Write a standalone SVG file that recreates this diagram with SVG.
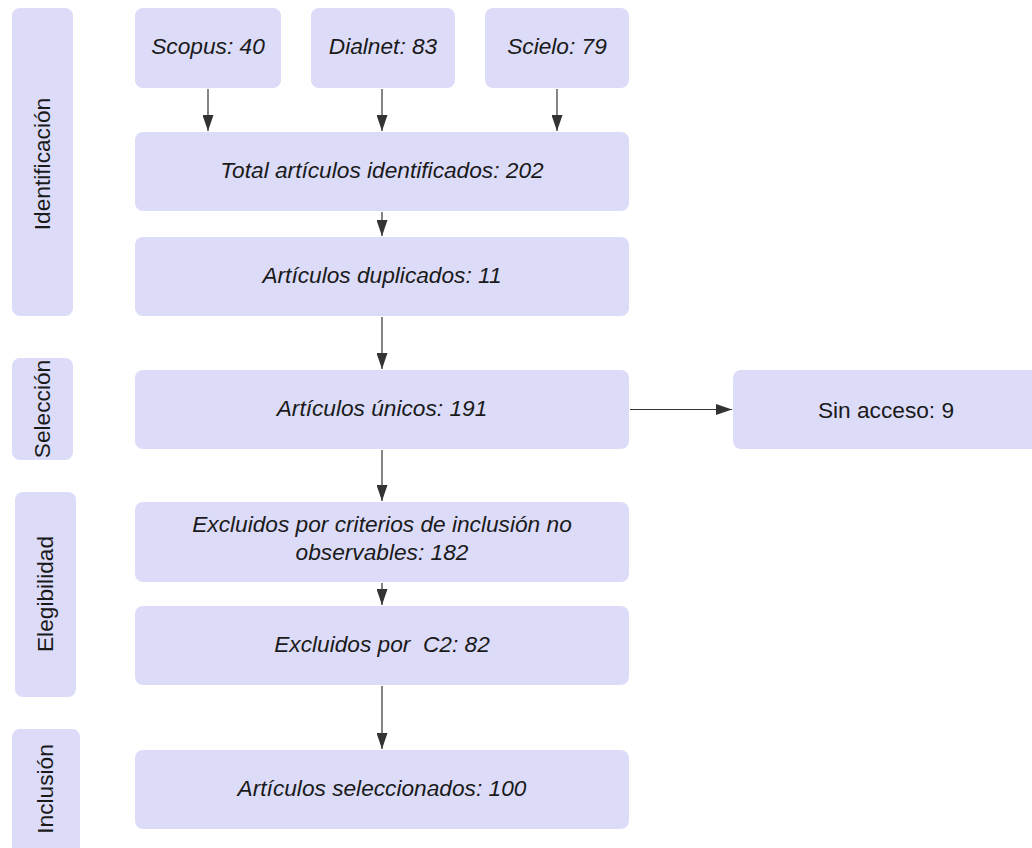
<svg xmlns="http://www.w3.org/2000/svg" width="1032" height="848" viewBox="0 0 1032 848">
<style>
.box{fill:#dcdcf9;}
.t{font-family:"Liberation Sans",Arial,sans-serif;font-size:22.7px;font-style:italic;fill:#1a1a1a;text-anchor:middle;}
.s{font-family:"Liberation Sans",Arial,sans-serif;font-size:22.7px;fill:#1a1a1a;text-anchor:middle;dominant-baseline:central;}
.c{stroke:#333;stroke-width:1.2;fill:none;marker-end:url(#ah);}
</style>
<defs>
<marker id="ah" markerWidth="16" markerHeight="11" refX="16" refY="5.5" orient="auto" markerUnits="userSpaceOnUse" viewBox="0 0 16 11">
<path d="M0,0 L16,5.5 L0,11 Z" fill="#333"/>
</marker>
</defs>
<rect width="1032" height="848" fill="#ffffff"/>
<g id="stage-identificacion"><rect class="box" x="12" y="8" width="61" height="308" rx="8"/><text class="s" transform="translate(42,164) rotate(-90)">Identificación</text></g>
<g id="stage-seleccion"><rect class="box" x="12" y="358" width="61" height="102" rx="8"/><text class="s" transform="translate(42,409) rotate(-90)">Selección</text></g>
<g id="stage-elegibilidad"><rect class="box" x="15" y="492" width="61" height="205" rx="8"/><text class="s" transform="translate(45,594) rotate(-90)">Elegibilidad</text></g>
<g id="stage-inclusion"><rect class="box" x="12" y="729" width="68" height="130" rx="8"/><text class="s" transform="translate(45,789) rotate(-90)">Inclusión</text></g>
<g id="scopus"><rect class="box" x="135" y="8" width="146" height="80" rx="8"/><text class="t" x="208" y="54">Scopus: 40</text></g>
<g id="dialnet"><rect class="box" x="311" y="8" width="144" height="80" rx="8"/><text class="t" x="383" y="54">Dialnet: 83</text></g>
<g id="scielo"><rect class="box" x="485" y="8" width="144" height="80" rx="8"/><text class="t" x="557" y="54">Scielo: 79</text></g>
<g id="total"><rect class="box" x="135" y="132" width="494" height="79" rx="8"/><text class="t" x="382" y="177.5">Total artículos identificados: 202</text></g>
<g id="duplicados"><rect class="box" x="135" y="237" width="494" height="79" rx="8"/><text class="t" x="382" y="282.5">Artículos duplicados: 11</text></g>
<g id="unicos"><rect class="box" x="135" y="370" width="494" height="79" rx="8"/><text class="t" x="382" y="415.5">Artículos únicos: 191</text></g>
<g id="sin-acceso"><rect class="box" x="733" y="370" width="307" height="79" rx="8"/><text class="s" x="886" y="409.5">Sin acceso: 9</text></g>
<g id="criterios"><rect class="box" x="135" y="502" width="494" height="80" rx="8"/><text class="t" x="382" y="532">Excluidos por criterios de inclusión no</text><text class="t" x="382" y="560">observables: 182</text></g>
<g id="c2"><rect class="box" x="135" y="606" width="494" height="79" rx="8"/><text class="t" x="382" y="651.5" xml:space="preserve">Excluidos por  C2: 82</text></g>
<g id="seleccionados"><rect class="box" x="135" y="750" width="494" height="79" rx="8"/><text class="t" x="382" y="795.5">Artículos seleccionados: 100</text></g>
<g id="connectors">
<path class="c" d="M208,89 L208,131"/>
<path class="c" d="M382,89 L382,131"/>
<path class="c" d="M557,89 L557,131"/>
<path class="c" d="M382,212 L382,236"/>
<path class="c" d="M382,317 L382,369"/>
<path class="c" d="M630,409.5 L732,409.5"/>
<path class="c" d="M382,450 L382,501"/>
<path class="c" d="M382,583 L382,605"/>
<path class="c" d="M382,686 L382,749"/>
</g>
</svg>
